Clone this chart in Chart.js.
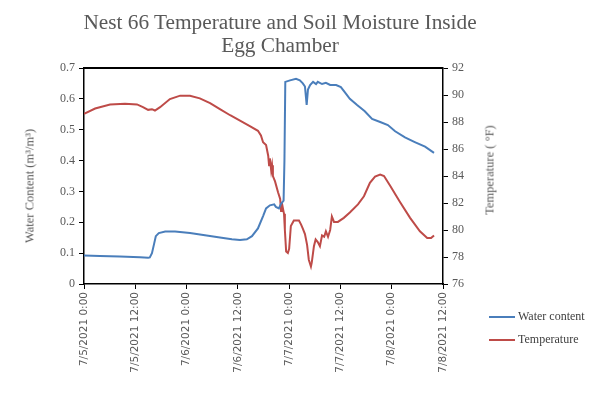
<!DOCTYPE html>
<html>
<head>
<meta charset="utf-8">
<script src="https://cdn.jsdelivr.net/npm/chart.js@4.4.1/dist/chart.umd.min.js"></script>
<style>
body{margin:0;background:#fff;}
#wrap{position:relative;width:610px;height:399px;}
#titulo{position:absolute;left:0;top:11px;width:560px;text-align:center;font-family:"Liberation Serif",serif;font-size:21.3px;line-height:22.5px;color:#595959;}
.eixo{position:absolute;white-space:nowrap;font-family:"Liberation Serif",serif;font-size:12.5px;color:#595959;transform:translate(-50%,-50%) rotate(-90deg);}
.leg{position:absolute;left:489px;font-family:"Liberation Serif",serif;font-size:12px;color:#404040;}
.leg span{display:inline-block;width:26px;height:2px;vertical-align:middle;margin-right:3px;}
</style>
</head>
<body>
<div id="wrap">
<canvas id="grafico" width="610" height="399"></canvas>
<div id="titulo">Nest 66 Temperature and Soil Moisture Inside<br>Egg Chamber</div>
<div class="eixo" style="left:30px;top:186px">Water Content (m³/m³)</div>
<div class="eixo" style="left:490px;top:170px">Temperature ( °F)</div>
<div class="leg" style="top:309px"><span style="background:#4a7ebb"></span>Water content</div>
<div class="leg" style="top:332px"><span style="background:#be4b48"></span>Temperature</div>
</div>
<script>
// hours since 7/5/2021 0:00
const horasAgua = [0,3.7,8.4,13.1,15,15.4,15.9,16.4,16.8,17.5,19,21.3,24.8,28.3,31.8,34.6,36.5,38.1,39.3,40.7,41.9,42.6,43.5,44.5,44.9,45.6,46.1,46.7,46.9,47.1,48.2,49.6,50.5,51.2,51.7,52.1,52.4,52.9,53.6,54.3,54.7,55.7,56.6,57.6,59,60.1,61.1,62.2,63.9,65.7,67.4,69.3,71.1,72.8,75.1,77.4,79.8,81.9];
const agua = [0.092,0.091,0.089,0.087,0.085,0.086,0.10,0.13,0.155,0.165,0.170,0.170,0.165,0.158,0.151,0.145,0.143,0.145,0.155,0.18,0.22,0.245,0.255,0.258,0.25,0.245,0.26,0.27,0.40,0.655,0.66,0.665,0.66,0.65,0.64,0.58,0.63,0.645,0.655,0.648,0.655,0.648,0.652,0.645,0.645,0.638,0.62,0.60,0.58,0.56,0.535,0.525,0.515,0.495,0.475,0.46,0.445,0.425];

const horasTemp = [0,2.6,6.1,9.6,12.4,13.8,15,15.9,16.6,17.8,20.1,22.5,24.8,27.1,29.5,31.8,34.2,36.5,38.8,40.7,41.4,41.9,42.6,43.1,43.3,43.5,43.8,44,44.2,44.7,45.4,45.9,46.1,46.3,46.6,46.8,47,47.3,47.7,48,48.4,49.1,50.3,50.8,51.2,51.7,52.2,52.6,53.1,53.3,53.8,54.2,54.7,55.2,55.7,56.2,56.6,57.1,57.6,58,58.5,59.4,60.8,62.2,64.1,65.5,66.9,68.1,69.3,70.2,71.6,73.9,76.3,78.6,80.3,81.2,81.9];
const temperatura = [88.6,89.0,89.3,89.35,89.3,89.1,88.9,88.95,88.85,89.1,89.7,89.95,89.95,89.75,89.4,88.95,88.5,88.1,87.7,87.35,87.0,86.5,86.3,85.5,84.8,85.3,84.4,84.8,84.0,83.6,82.8,82.3,81.4,82.0,81.5,81.2,80.0,78.4,78.3,78.6,80.3,80.7,80.7,80.4,80.1,79.7,78.9,77.8,77.3,77.6,78.8,79.3,79.1,78.8,79.6,79.5,79.9,79.5,80.0,81.0,80.6,80.6,80.9,81.3,81.9,82.5,83.5,83.95,84.1,84.0,83.3,82.1,80.9,79.9,79.4,79.4,79.6];

const rotulosX = ["7/5/2021 0:00","7/5/2021 12:00","7/6/2021 0:00","7/6/2021 12:00","7/7/2021 0:00","7/7/2021 12:00","7/8/2021 0:00","7/8/2021 12:00"];

const cinza = "#595959";
const serif = "'Liberation Serif', 'Times New Roman', serif";

const moldura = {
id:"moldura",
afterDatasetsDraw(chart){
const a = chart.chartArea;
const c = chart.ctx;
c.save();
c.strokeStyle = "#000";
c.lineWidth = 2;
c.beginPath();
c.moveTo(a.left, a.top);
c.lineTo(a.right, a.top);
c.stroke();
c.restore();
}
};

new Chart(document.getElementById("grafico"),{
type:"line",
data:{
datasets:[{
label:"Water content",
data:horasAgua.map((h,i)=>({x:h,y:agua[i]})),
borderColor:"#4a7ebb",
borderWidth:2,
pointRadius:0,
tension:0,
yAxisID:"y"
},{
label:"Temperature",
data:horasTemp.map((h,i)=>({x:h,y:temperatura[i]})),
borderColor:"#be4b48",
borderWidth:2,
pointRadius:0,
tension:0,
yAxisID:"y1"
}]
},
options:{
responsive:false,
animation:false,
layout:{padding:{left:17,right:108,top:68,bottom:0}},
plugins:{legend:{display:false},tooltip:{enabled:false}},
scales:{
x:{
type:"linear",
min:0,max:84,
afterFit(s){s.height=115;},
border:{color:"#000",width:1.5},
grid:{drawOnChartArea:false,color:"#000",tickLength:5},
ticks:{
stepSize:12,
minRotation:90,maxRotation:90,
padding:3,
color:cinza,
font:{family:"'DejaVu Sans', sans-serif",size:10.5},
callback:v=>rotulosX[v/12]
}
},
y:{
position:"left",
min:0,max:0.7,
afterFit(s){s.width=67;},
border:{color:"#000",width:1.5},
grid:{drawOnChartArea:false,color:"#000",tickLength:5},
ticks:{stepSize:0.1,padding:4,color:cinza,font:{family:serif,size:12},
callback:v=>v===0?"0":v.toFixed(1)}
},
y1:{
position:"right",
min:76,max:92,
afterFit(s){s.width=59;},
border:{color:"#000",width:1.5},
grid:{drawOnChartArea:false,color:"#000",tickLength:5},
ticks:{stepSize:2,padding:4,color:cinza,font:{family:serif,size:12}}
}
}
},
plugins:[moldura]
});
</script>
</body>
</html>
